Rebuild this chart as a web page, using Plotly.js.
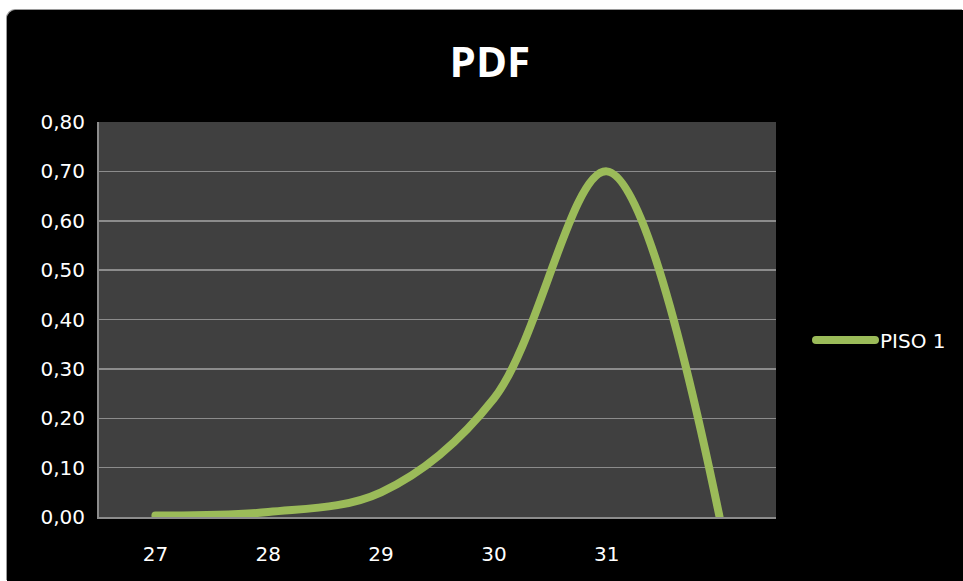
<!DOCTYPE html>
<html>
<head>
<meta charset="utf-8">
<script src="https://cdn.plot.ly/plotly-3.0.1.min.js"></script>
<style>
  html, body { margin: 0; padding: 0; background: #ffffff; width: 963px; height: 581px; overflow: hidden; }
  #frame {
    position: absolute; left: 7px; top: 10px; width: 956px; height: 571px;
    background: #000000; border-top-left-radius: 9px; overflow: hidden;
    box-shadow: -1px -1px 0 #9a9a9a;
  }
  #chart { width: 956px; height: 571px; }
  /* rounded ends on the curve and its legend sample */
  #chart path.js-line, #chart .legendlines path { stroke-linecap: round; }
</style>
</head>
<body>
<div id="frame"><div id="chart"></div></div>
<script>
// Probability density of PISO 1, sampled at each category
const categories = [27, 28, 29, 30, 31, 32];
const tickLabels = ['27', '28', '29', '30', '31'];
const tickValues = [27, 28, 29, 30, 31];
const piso1 = [0.003, 0.01, 0.05, 0.24, 0.70, 0.0];
const yTicks = [0, 0.1, 0.2, 0.3, 0.4, 0.5, 0.6, 0.7, 0.8];

const tickFont = { family: 'DejaVu Sans', size: 20, color: '#ffffff' };

const trace = {
  x: categories,
  y: piso1,
  type: 'scatter',
  mode: 'lines',
  name: 'PISO 1',
  line: { color: '#9bbb59', width: 8, shape: 'spline', smoothing: 1 },
  cliponaxis: false
};

const layout = {
  width: 956,
  height: 571,
  paper_bgcolor: '#000000',
  plot_bgcolor: '#404040',
  separators: ',.',
  margin: { l: 92, r: 187, t: 112, b: 64 },
  title: {
    text: '<b>PDF</b>',
    font: { family: 'Open Sans', size: 42, color: '#ffffff' },
    x: 0.505, xanchor: 'center',
    y: 0.909, yanchor: 'middle', yref: 'container'
  },
  xaxis: {
    range: [26.5, 32.5],
    tickvals: tickValues,
    ticktext: tickLabels,
    showgrid: false,
    zeroline: false,
    showline: true,
    linecolor: '#8c8c8c',
    linewidth: 2,
    ticks: '',
    ticklabelstandoff: 18,
    tickfont: tickFont,
    fixedrange: true
  },
  yaxis: {
    range: [0, 0.8],
    tickvals: yTicks,
    tickformat: '.2f',
    showgrid: true,
    gridcolor: '#8c8c8c',
    gridwidth: 1.5,
    zeroline: false,
    showline: true,
    linecolor: '#8c8c8c',
    linewidth: 2,
    ticks: '',
    ticklabelstandoff: 8,
    tickfont: tickFont,
    fixedrange: true
  },
  showlegend: true,
  legend: {
    xref: 'container', yref: 'container',
    x: 0.841, xanchor: 'left',
    y: 0.422, yanchor: 'middle',
    bgcolor: 'rgba(0,0,0,0)',
    font: { family: 'DejaVu Sans', size: 20, color: '#ffffff' },
    itemwidth: 59
  }
};

Plotly.newPlot('chart', [trace], layout, { displayModeBar: false, staticPlot: true });
</script>
</body>
</html>
